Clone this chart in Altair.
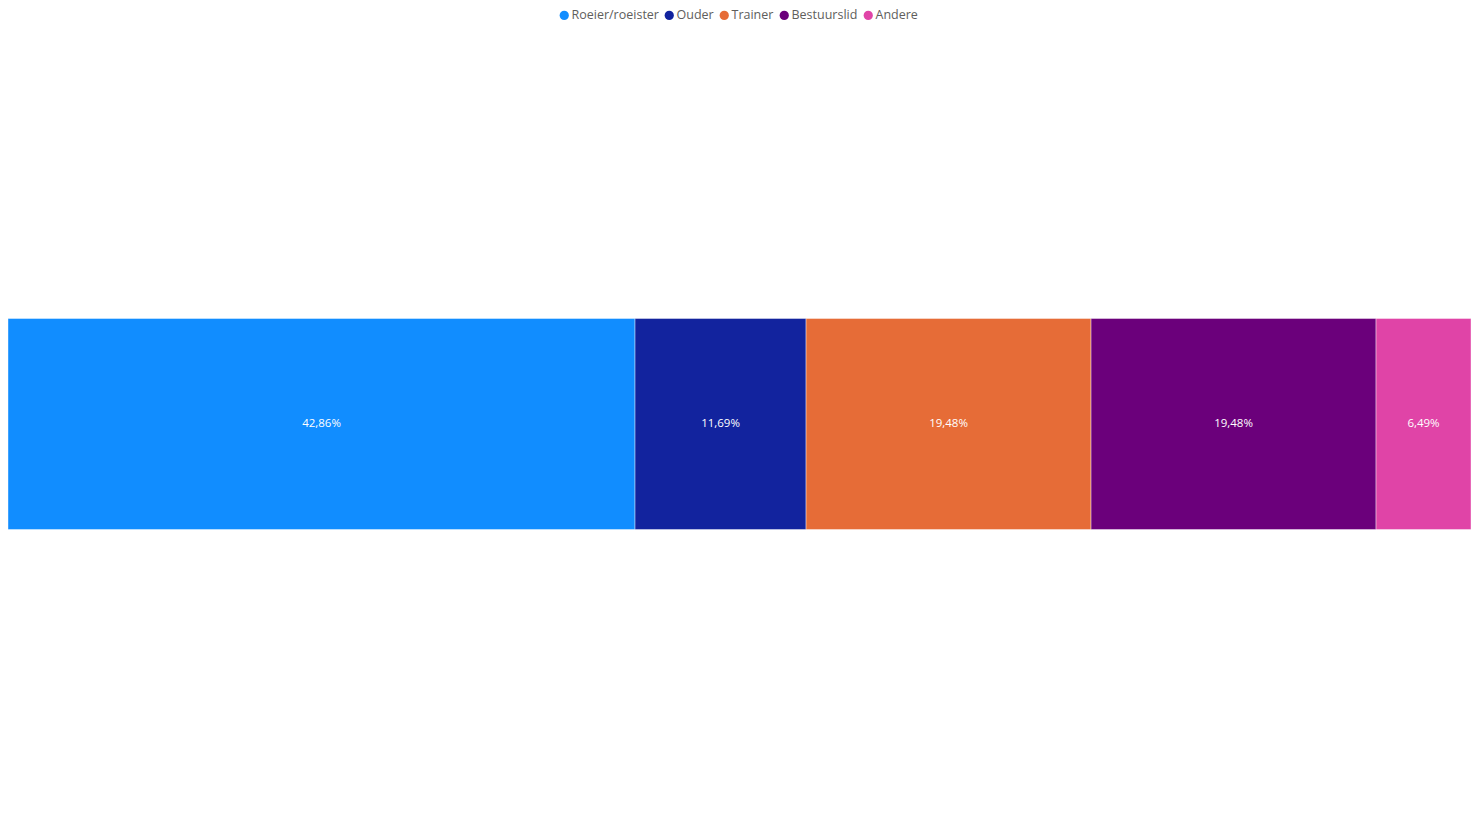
import altair as alt
import pandas as pd

categories = ["Roeier/roeister", "Ouder", "Trainer", "Bestuurslid", "Andere"]
values = [42.86, 11.69, 19.48, 19.48, 6.49]
colors = ["#118DFF", "#12239E", "#E66C37", "#6B007B", "#E044A7"]

df = pd.DataFrame({
    "category": categories,
    "value": values,
    "order": list(range(len(categories))),
    "row": ["all"] * len(categories),
})

FONT = "Segoe UI, Open Sans, sans-serif"

color = alt.Color(
    "category:N",
    scale=alt.Scale(domain=categories, range=colors),
    sort=categories,
    legend=alt.Legend(
        title=None,
        orient="none",
        legendX=550,
        legendY=-17,
        padding=0,
        direction="horizontal",
        symbolType="circle",
        symbolSize=85,
        symbolStrokeWidth=0,
        labelFont=FONT,
        labelFontSize=12.5,
        labelColor="#605E5C",
        labelOffset=1,
        columnPadding=4,
    ),
)

base = alt.Chart(df).transform_stack(
    stack="value", groupby=["row"], as_=["x0", "x1"], sort=[alt.SortField("order")]
).transform_calculate(
    mid="(datum.x0 + datum.x1) / 2",
    label="replace(format(datum.value, '.2f'), '.', ',') + '%'",
)

xscale = alt.Scale(domain=[0, 100], nice=False, zero=True)

bars = base.mark_bar(size=211, stroke="white", strokeWidth=1, strokeOpacity=0.4).encode(
    x=alt.X("x0:Q", scale=xscale, axis=None),
    x2="x1:Q",
    y=alt.Y("row:N", axis=None),
    color=color,
)

labels = base.mark_text(color="white", font=FONT, fontSize=11.5).encode(
    x=alt.X("mid:Q", scale=xscale, axis=None),
    y=alt.Y("row:N", axis=None),
    text="label:N",
)

chart = (bars + labels).properties(
    width=1463,
    height=796,
    padding={"top": 18, "left": 0, "right": 0, "bottom": 0},
    autosize=alt.AutoSizeParams(type="none"),
).configure(background="white").configure_view(stroke=None, strokeWidth=0)

chart.save("out.html", embed_options={"renderer": "svg", "actions": False})
